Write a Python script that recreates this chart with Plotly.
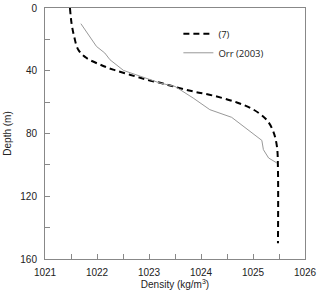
import plotly.graph_objects as go

# Eq. (7) density profile
eq7_density = [1021.48, 1021.51, 1021.56, 1021.64, 1021.80, 1022.06, 1022.31, 1022.63, 1022.96,
               1023.25, 1023.47, 1023.85, 1024.24, 1024.69, 1025.01, 1025.26, 1025.39, 1025.46,
               1025.48, 1025.48]
eq7_depth = [0, 9.6, 18.1, 26.6, 31.9, 36.1, 39.3, 42.5, 45.7,
             48.0, 50, 53.2, 55.9, 60.2, 64.8, 71.2, 78.7, 88.2,
             103, 150]

# Orr (2003) measured profile
orr_density = [1021.69, 1021.99, 1022.15, 1022.25, 1022.51, 1023.21, 1023.50, 1023.85, 1024.17,
               1024.59, 1025.17, 1025.20, 1025.30, 1025.46]
orr_depth = [10, 24.5, 28.7, 33, 39.8, 47.8, 50, 57.4, 64.8,
             69.7, 84.4, 90.3, 95.6, 98.8]

x_ticks = [1021, 1021.5, 1022, 1022.5, 1023, 1023.5, 1024, 1024.5, 1025, 1025.5, 1026]
x_labels = ["1021", "", "1022", "", "1023", "", "1024", "", "1025", "", "1026"]
y_ticks = [0, 20, 40, 60, 80, 100, 120, 140, 160]
y_labels = ["0", "", "40", "", "80", "", "120", "", "160"]

fig = go.Figure()
fig.add_trace(go.Scatter(x=eq7_density, y=eq7_depth, mode="lines", name="(7)",
                         line=dict(color="black", width=2, dash="6px,4px", shape="spline")))
fig.add_trace(go.Scatter(x=orr_density, y=orr_depth, mode="lines", name="Orr (2003)",
                         line=dict(color="#999999", width=1)))

tickfont = dict(family="Liberation Sans, Arial", size=10, color="#222")
axis_common = dict(showline=True, linecolor="#888888", linewidth=1, mirror=True,
                   ticks="inside", ticklen=5, tickcolor="#888888", showgrid=False,
                   zeroline=False, tickfont=tickfont, automargin=False)

fig.update_xaxes(range=[1021, 1026], tickvals=x_ticks, ticktext=x_labels, ticklabelstandoff=4,
                 title=dict(text="Density (kg/m<sup>3</sup>)", standoff=0, font=tickfont),
                 **axis_common)
fig.update_yaxes(range=[160, 0], tickvals=y_ticks, ticktext=y_labels, ticklabelstandoff=5,
                 title=dict(text="Depth (m)", standoff=6, font=tickfont),
                 **axis_common)

fig.update_layout(
    width=320, height=294,
    margin=dict(l=45, r=15, t=8, b=35, autoexpand=False),
    plot_bgcolor="white", paper_bgcolor="white",
    legend=dict(x=0.513, y=0.955, xanchor="left", yanchor="top",
                font=dict(family="Open Sans, Liberation Sans", size=9.5, color="#222"),
                bgcolor="rgba(0,0,0,0)", tracegroupgap=0),
)

fig.write_html("out.html", config={"responsive": False, "displayModeBar": False},
               post_script="document.body.style.margin='0px';document.body.style.overflow='hidden';")
